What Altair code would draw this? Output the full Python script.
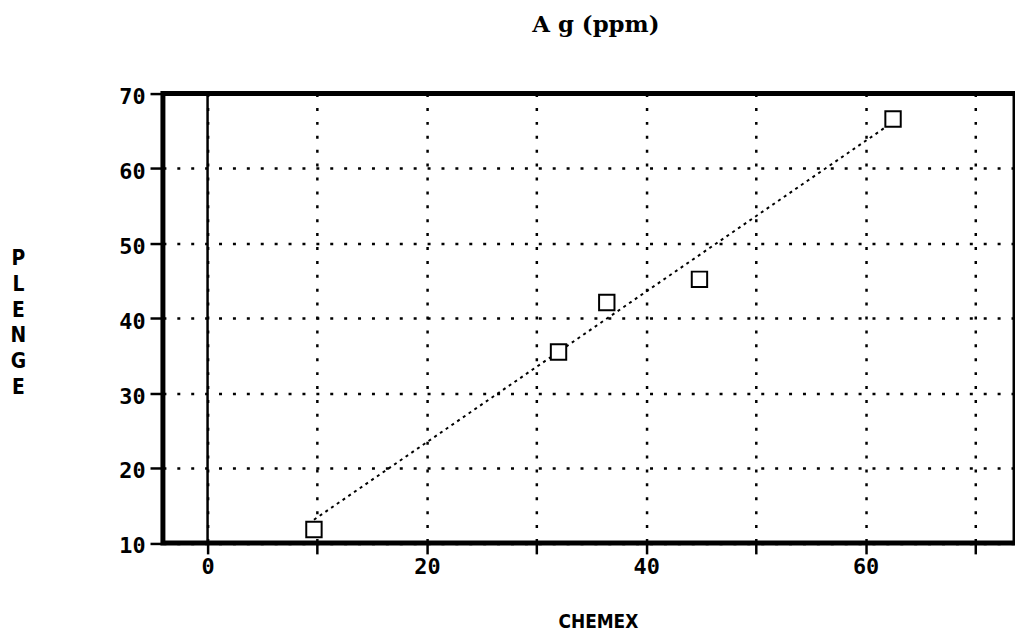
import altair as alt
import pandas as pd

# Data
chemex = [9.7, 32.0, 36.4, 44.85, 62.5]
plenge = [11.8, 35.5, 42.1, 45.2, 66.6]
fit_chemex = [9.7, 62.5]
fit_plenge = [13.1, 66.2]
x_ticks = [0, 10, 20, 30, 40, 50, 60, 70]
y_ticks = [10, 20, 30, 40, 50, 60, 70]
zero_line = [0]
y_title_letters = ["P", "L", "E", "N", "G", "E"]

pts = pd.DataFrame({"CHEMEX": chemex, "PLENGE": plenge})
fit = pd.DataFrame({"CHEMEX": fit_chemex, "PLENGE": fit_plenge})
zero = pd.DataFrame({"CHEMEX": zero_line})

xscale = alt.Scale(domain=[-4.07, 73.62], nice=False, zero=False)
yscale = alt.Scale(domain=[10, 70], nice=False, zero=False)

cond_font = "DejaVu Sans Condensed, DejaVu Sans"

xaxis = alt.Axis(
    values=x_ticks, title="CHEMEX", grid=True, gridDash=[3, 11], gridColor="black",
    gridWidth=2.5, gridOpacity=1, domain=False, ticks=True, tickSize=11, tickWidth=2.5,
    tickColor="black", labelExpr="datum.value % 20 == 0 ? datum.label : ''",
    labelFont="DejaVu Sans Mono", labelFontSize=22, labelFontWeight="bold",
    labelColor="black", labelPadding=3,
    labelOverlap=False, labelFlush=False,
    titleX=438, titleY=79, titleBaseline="middle", titleAlign="center",
    titleFont=cond_font, titleFontSize=19, titleFontWeight="bold", titleColor="black",
)
yaxis = alt.Axis(
    values=y_ticks, title=y_title_letters, grid=True, gridDash=[3, 11], gridColor="black",
    gridWidth=2.5, gridOpacity=1, domain=False, ticks=True, tickSize=13, tickWidth=2.5,
    tickColor="black", labelFont="DejaVu Sans Mono", labelFontSize=22, labelFontWeight="bold",
    labelColor="black", labelPadding=5, labelOverlap=False, labelFlush=False, labelOffset=3,
    titleAngle=0, titleX=-146, titleY=166, titleBaseline="middle", titleAlign="center",
    titleFont=cond_font, titleFontSize=21, titleFontWeight="bold", titleColor="black",
    titleLineHeight=26,
)

X = alt.X("CHEMEX:Q", scale=xscale, axis=xaxis)
Y = alt.Y("PLENGE:Q", scale=yscale, axis=yaxis)

zero_rule = alt.Chart(zero).mark_rule(color="black", strokeWidth=2.5).encode(x=X)
fit_line = alt.Chart(fit).mark_line(color="black", strokeWidth=2, strokeDash=[3, 4]).encode(x=X, y=Y)
points = alt.Chart(pts).mark_square(
    fill="white", stroke="black", strokeWidth=2, size=240, opacity=1, fillOpacity=1
).encode(x=X, y=Y)

chart = alt.layer(zero_rule, fit_line, points).properties(
    width=858,
    height=452.5,
    autosize="none",
    background="white",
    padding={"left": 156, "top": 84, "right": 0, "bottom": 88},
    title=alt.TitleParams(
        "A g (ppm)", font="DejaVu Serif", fontSize=23, fontWeight="bold",
        color="black", anchor="middle", dx=7, offset=49,
    ),
).configure_view(stroke="black", strokeWidth=5)

chart.save("out.html", embed_options={"renderer": "svg", "actions": False})
